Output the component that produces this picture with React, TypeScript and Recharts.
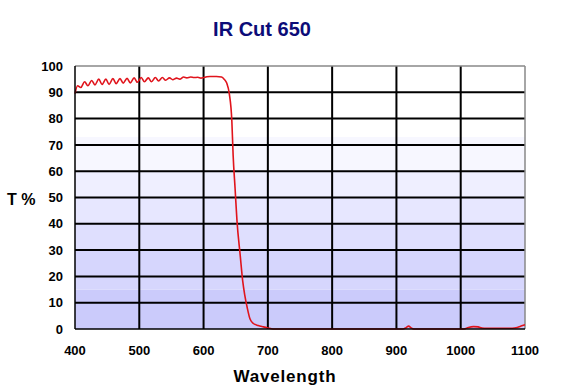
import React from "react";
import { LineChart, Line, XAxis, YAxis, ReferenceArea, ReferenceLine } from "recharts";

const wavelengths = [
  400, 404, 409, 415, 420, 426, 431, 437, 442, 448, 453, 459, 464, 470, 475, 481, 486, 492, 497, 503,
  508, 514, 519, 525, 530, 536, 541, 547, 552, 558, 563, 569, 574, 580, 585, 591, 596, 600, 605, 610,
  620, 628, 632, 636, 640, 644, 646, 649, 652, 657, 661, 664, 668, 672, 677, 685, 693, 700, 708, 750,
  800, 850, 910, 915, 919, 923, 927, 960, 1005, 1012, 1020, 1027, 1033, 1040, 1060, 1080, 1088, 1095, 1100,
];
const transmission = [
  89.5, 92.5, 91.8, 94, 92.5, 94.5, 92.8, 95, 93, 95, 93, 95.2, 93.3, 95.2, 93.5, 95.3, 93.6, 95.5, 93.8, 95.6,
  94, 95.5, 94, 95.6, 94.3, 95.6, 94.6, 95.5, 94.8, 95.4, 95, 95.8, 95.5, 95.8, 95.6, 95.7, 95.4, 95.6, 95.9, 96,
  96, 95.8, 95, 93.5, 89.5, 79, 66, 53.5, 41, 28, 18, 13, 8, 4, 2.2, 1.3, 0.8, 0.4, 0, 0,
  0, 0, 0, 0.5, 1.1, 0.4, 0, 0, 0, 0.6, 0.9, 0.8, 0.4, 0.3, 0.3, 0.3, 0.6, 1.2, 1.6,
];

const xTicks = [400, 500, 600, 700, 800, 900, 1000, 1100];
const yTicks = [0, 10, 20, 30, 40, 50, 60, 70, 80, 90, 100];
const xGrid = [500, 600, 700, 800, 900, 1000];
const yGrid = [10, 20, 30, 40, 50, 60, 70, 80, 90];

const bandEdges = [0, 15, 30, 40, 50, 60, 73];
const bandTops = [15, 30, 40, 50, 60, 73, 100];
const bandColors = ["#cbcbfb", "#d6d6fd", "#dfdffe", "#e7e7ff", "#efefff", "#f7f7ff", "#ffffff"];

const data = wavelengths.map((w, i) => ({ w, t: transmission[i] }));

const font = "'Liberation Sans', Arial, sans-serif";

export default function App() {
  return (
    <div style={{ position: "absolute", left: 0, top: 0, width: 562, height: 390, background: "#fff" }}>
      <LineChart
        width={562}
        height={390}
        data={data}
        margin={{ top: 66, right: 37, bottom: 0, left: 0 }}
      >
        {bandEdges.map((b, i) => (
          <ReferenceArea
            key={"band" + i}
            x1={400}
            x2={1100}
            y1={b}
            y2={bandTops[i]}
            fill={bandColors[i]}
            fillOpacity={1}
            stroke="none"
            ifOverflow="visible"
          />
        ))}
        {yGrid.map((v) => (
          <ReferenceLine key={"hy" + v} y={v} stroke="#000" strokeWidth={2} />
        ))}
        {xGrid.map((v) => (
          <ReferenceLine key={"vx" + v} x={v} stroke="#000" strokeWidth={2} />
        ))}
        <ReferenceLine y={100} stroke="#888" strokeWidth={1.5} />
        <ReferenceLine x={1100} stroke="#888" strokeWidth={1.5} />
        <XAxis
          dataKey="w"
          type="number"
          domain={[400, 1100]}
          ticks={xTicks}
          interval={0}
          height={61}
          tickLine={false}
          tickSize={0}
          tickMargin={17}
          axisLine={{ stroke: "#000", strokeWidth: 1.5 }}
          tick={{ fill: "#000", fontSize: 13, fontWeight: 700, fontFamily: font }}
          label={{
            content: () => (
              <text
                x={285}
                y={382}
                textAnchor="middle"
                fontFamily={font}
                fontSize={17}
                fontWeight={700}
                letterSpacing={0.8}
                fill="#000"
              >
                Wavelength
              </text>
            ),
          }}
        />
        <YAxis
          type="number"
          domain={[0, 100]}
          ticks={yTicks}
          interval={0}
          width={75}
          tickLine={false}
          tickSize={0}
          tickMargin={12}
          axisLine={{ stroke: "#000", strokeWidth: 1.5 }}
          tick={{ fill: "#000", fontSize: 13, fontWeight: 700, fontFamily: font }}
          label={{
            content: () => (
              <text
                x={7}
                y={205}
                textAnchor="start"
                fontFamily={font}
                fontSize={16}
                fontWeight={700}
                fill="#000"
              >
                T %
              </text>
            ),
          }}
        />
        <Line
          type="monotone"
          dataKey="t"
          stroke="#e0141c"
          strokeWidth={1.6}
          dot={false}
          activeDot={false}
          isAnimationActive={false}
        />
        <text
          x={262}
          y={36}
          textAnchor="middle"
          fontFamily={font}
          fontSize={20}
          fontWeight={700}
          fill="#0c0c78"
        >
          IR Cut 650
        </text>
      </LineChart>
    </div>
  );
}
